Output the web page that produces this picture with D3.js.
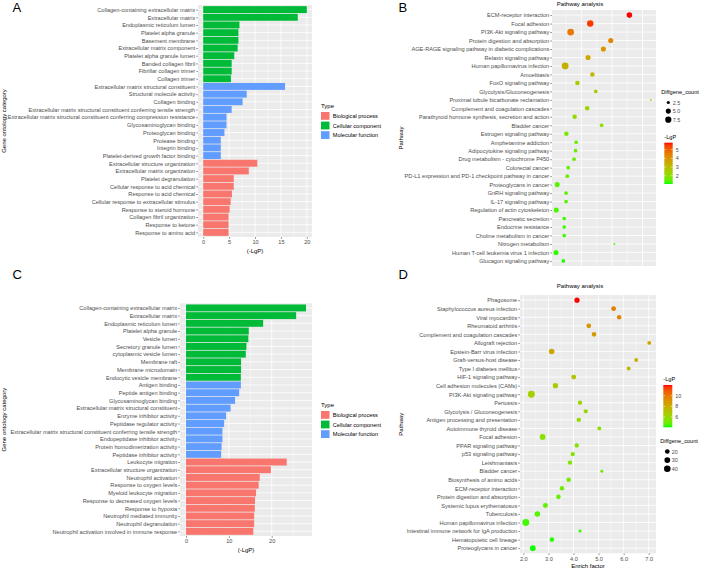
<!DOCTYPE html>
<html lang="en">
<head>
<meta charset="UTF-8">
<script src="https://d3js.org/d3.v7.min.js"></script>
<style>
  body { margin: 0; background: #fff; }
  text { font-family: "Liberation Sans", Arial, sans-serif; }
</style>
</head>
<body>
<div id="here"></div>
<script>
// ---- panel A : GO terms (first set) ----
const aTerms = [
  "Collagen-containing extracellular matrix", "Extracellular matrix", "Endoplasmic reticulum lumen",
  "Platelet alpha granule", "Basement membrane", "Extracellular matrix component",
  "Platelet alpha granule lumen", "Banded collagen fibril", "Fibrillar collagen trimer", "Collagen trimer",
  "Extracellular matrix structural constituent", "Structural molecule activity", "Collagen binding",
  "Extracellular matrix structural constituent conferring tensile strength",
  "Extracellular matrix structural constituent conferring compression resistance",
  "Glycosaminoglycan binding", "Proteoglycan binding", "Protease binding", "Integrin binding",
  "Platelet-derived growth factor binding",
  "Extracellular structure organization", "Extracellular matrix organization", "Platelet degranulation",
  "Cellular response to acid chemical", "Response to acid chemical",
  "Cellular response to extracellular stimulus", "Response to steroid hormone",
  "Collagen fibril organization", "Response to ketone", "Response to amino acid"
];
const aValues = [20.0, 18.25, 7.0, 6.8, 6.8, 6.65, 6.0, 5.5, 5.5, 5.35,
  15.8, 8.4, 7.6, 5.5, 4.5, 4.5, 4.1, 3.4, 3.4, 3.4,
  10.45, 8.8, 5.9, 5.9, 5.55, 5.3, 5.1, 4.9, 4.9, 4.9];
const aTypes = [].concat(Array(10).fill("CC"), Array(10).fill("MF"), Array(10).fill("BP"));
const aTicks = [0, 5, 10, 15, 20];

// ---- panel C : GO terms (second set) ----
const cTerms = [
  "Collagen-containing extracellular matrix", "Extracellular matrix", "Endoplasmic reticulum lumen",
  "Platelet alpha granule", "Vesicle lumen", "Secretory granule lumen", "cytoplasmic vesicle lumen",
  "Membrane raft", "Membrane microdomain", "Endocytic vesicle membrane",
  "Antigen binding", "Peptide antigen binding", "Glycosaminoglycan binding",
  "Extracellular matrix structural constituent", "Enzyme inhibitor activity", "Peptidase regulator activity",
  "Extracellular matrix structural constituent conferring tensile strength",
  "Endopeptidase inhibitor activity", "Protein homodimerization activity", "Peptidase inhibitor activity",
  "Leukocyte migration", "Extracellular structure organization", "Neutrophil activation",
  "Response to oxygen levels", "Myeloid leukocyte migration", "Response to decreased oxygen levels",
  "Response to hypoxia", "Neutrophil mediated immunity", "Neutrophil degranulation",
  "Neutrophil activation involved in immune response"
];
const cValues = [28.0, 25.7, 18.0, 14.65, 14.55, 14.1, 13.95, 12.85, 12.85, 12.8,
  12.8, 12.4, 11.45, 10.4, 9.35, 8.9, 8.5, 8.5, 8.3, 8.2,
  23.5, 19.8, 17.2, 16.95, 16.35, 16.1, 16.05, 15.9, 15.9, 15.7];
const cTypes = [].concat(Array(10).fill("CC"), Array(10).fill("MF"), Array(10).fill("BP"));
const cTicks = [0, 10, 20];

const typeKeys = ["BP", "CC", "MF"];
const typeNames = ["Biological process", "Cellular component", "Molecular function"];
const typeColors = ["#F8766D", "#00BA38", "#619CFF"];

// ---- panel B : pathways (first set) ----
const bPathways = [
  "ECM-receptor interaction", "Focal adhesion", "PI3K-Akt signaling pathway",
  "Protein digestion and absorption", "AGE-RAGE signaling pathway in diabetic complications",
  "Relaxin signaling pathway", "Human papillomavirus infection", "Amoebiasis", "FoxO signaling pathway",
  "Glycolysis/Gluconeogenesis", "Proximal tubule bicarbonate reclamation",
  "Complement and coagulation cascades", "Parathyroid hormone synthesis, secretion and action",
  "Bladder cancer", "Estrogen signaling pathway", "Amphetamine addiction", "Adipocytokine signaling pathway",
  "Drug metabolism - cytochrome P450", "Colorectal cancer",
  "PD-L1 expression and PD-1 checkpoint pathway in cancer", "Proteoglycans in cancer",
  "GnRH signaling pathway", "IL-17 signaling pathway", "Regulation of actin cytoskeleton",
  "Pancreatic secretion", "Endocrine resistance", "Choline metabolism in cancer", "Nitrogen metabolism",
  "Human T-cell leukemia virus 1 infection", "Glucagon signaling pathway"
];
const bEnrich = [4.57, 3.29, 2.65, 3.96, 3.72, 3.22, 2.47, 3.36, 2.87, 3.47, 5.27, 3.19, 2.78, 3.66, 2.51,
  2.83, 2.81, 2.76, 2.57, 2.54, 2.21, 2.50, 2.50, 2.18, 2.44, 2.44, 2.44, 4.08, 2.17, 2.41];
const bLgP = [5.8, 5.5, 4.6, 4.3, 4.0, 3.5, 3.3, 3.1, 2.6, 2.5, 2.4, 2.3, 2.1, 2.0, 1.7,
  1.6, 1.6, 1.6, 1.5, 1.5, 1.4, 1.4, 1.4, 1.3, 1.25, 1.25, 1.25, 1.2, 1.15, 1.1];
const bCount = [6, 8, 9, 5, 5, 5, 9, 4, 4, 3, 2, 4, 4, 3, 4,
  3, 3, 3, 3, 3, 5, 3, 3, 5, 3, 3, 3, 2, 5, 3];
const bGrid = [3, 4, 5];
const bSizeBreaks = [2.5, 5.0, 7.5];
const bColorBreaks = [2, 3, 4, 5];

// ---- panel D : pathways (second set) ----
const dPathways = [
  "Phagosome", "Staphylococcus aureus infection", "Viral myocarditis", "Rheumatoid arthritis",
  "Complement and coagulation cascades", "Allograft rejection", "Epstein-Barr virus infection",
  "Graft-versus-host disease", "Type I diabetes mellitus", "HIF-1 signaling pathway",
  "Cell adhesion molecules (CAMs)", "PI3K-Akt signaling pathway", "Pertussis",
  "Glycolysis / Gluconeogenesis", "Antigen processing and presentation", "Autoimmune thyroid disease",
  "Focal adhesion", "PPAR signaling pathway", "p53 signaling pathway", "Leishmaniasis", "Bladder cancer",
  "Biosynthesis of amino acids", "ECM-receptor interaction", "Protein digestion and absorption",
  "Systemic lupus erythematosus", "Tuberculosis", "Human papillomavirus infection",
  "Intestinal immune network for IgA production", "Hematopoietic cell lineage", "Proteoglycans in cancer"
];
const dEnrich = [4.14, 5.60, 5.82, 4.61, 4.82, 7.02, 3.13, 6.50, 6.20, 4.01, 3.28, 2.32, 4.26, 4.49, 4.21,
  5.03, 2.77, 4.13, 3.97, 3.86, 5.13, 3.81, 3.54, 3.40, 2.88, 2.56, 2.10, 4.26, 3.14, 2.38];
const dLgP = [12.0, 9.8, 9.5, 9.0, 8.8, 8.3, 8.3, 7.9, 7.5, 7.0, 6.6, 6.4, 6.1, 6.0, 5.9,
  5.7, 5.6, 5.5, 5.4, 5.3, 5.2, 5.1, 5.0, 4.9, 4.8, 4.6, 4.4, 4.3, 4.2, 4.1];
const dCount = [24, 20, 18, 20, 19, 14, 28, 14, 14, 22, 25, 45, 17, 17, 18,
  14, 30, 17, 17, 17, 10, 18, 18, 19, 22, 28, 44, 10, 19, 30];
const dTicks = [2, 3, 4, 5, 6, 7];
const dSizeBreaks = [20, 30, 40];
const dColorBreaks = [6, 8, 10];

const W = 701, H = 568;
const svg = d3.select("#here").append("svg").attr("width", W).attr("height", H);
const defs = svg.append("defs");

const FS = 5.6;
const panelBg = "#EBEBEB";
const axisTextCol = "#4D4D4D";

function styleAxis(g) {
  g.select(".domain").remove();
  g.selectAll(".tick line").attr("stroke", "#333").attr("stroke-width", 0.5);
  g.selectAll(".tick text").attr("fill", axisTextCol).style("font-size", FS + "px")
    .style("font-family", '"Liberation Sans", Arial, sans-serif');
}

function vGrid(g, x, majors, minors, y0, y1) {
  g.selectAll(null).data(minors).join("line")
    .attr("x1", d => x(d)).attr("x2", d => x(d)).attr("y1", y0).attr("y2", y1)
    .attr("stroke", "#fff").attr("stroke-width", 0.4);
  g.selectAll(null).data(majors).join("line")
    .attr("x1", d => x(d)).attr("x2", d => x(d)).attr("y1", y0).attr("y2", y1)
    .attr("stroke", "#fff").attr("stroke-width", 0.8);
}

function hGrid(g, y, cats, x0, x1) {
  g.selectAll(null).data(cats).join("line")
    .attr("x1", x0).attr("x2", x1).attr("y1", d => y(d)).attr("y2", d => y(d))
    .attr("stroke", "#fff").attr("stroke-width", 0.8);
}

function barPanel(o) {
  const g = svg.append("g");
  const x = d3.scaleLinear().domain(o.domain).range([o.x0, o.x1]);
  const y = d3.scalePoint().domain(o.terms).range([o.y0, o.y1]).padding(0.6);
  const step = y.step();
  g.append("rect").attr("x", o.x0).attr("y", o.y0).attr("width", o.x1 - o.x0).attr("height", o.y1 - o.y0)
    .attr("fill", panelBg);
  const half = (o.ticks[1] - o.ticks[0]) / 2;
  const minors = o.ticks.map(t => t + half).filter(v => v < o.domain[1]);
  vGrid(g, x, o.ticks, minors, o.y0, o.y1);
  hGrid(g, y, o.terms, o.x0, o.x1);
  const rows = o.terms.map((t, i) => ({ t, v: o.values[i], type: o.types[i] }));
  g.selectAll("rect.bar").data(rows).join("rect").attr("class", "bar")
    .attr("x", x(0)).attr("y", d => y(d.t) - step * 0.45)
    .attr("width", d => x(d.v) - x(0)).attr("height", step * 0.9)
    .attr("fill", d => typeColors[typeKeys.indexOf(d.type)]);

  g.append("g").attr("transform", `translate(${o.x0},0)`)
    .call(d3.axisLeft(y).tickSize(1.8).tickPadding(1)).call(styleAxis);
  g.append("g").attr("transform", `translate(0,${o.y1})`)
    .call(d3.axisBottom(x).tickValues(o.ticks).tickSize(1.8).tickPadding(1.5)).call(styleAxis);

  g.append("text").attr("x", (o.x0 + o.x1) / 2).attr("y", o.y1 + 15.5).attr("text-anchor", "middle")
    .style("font-size", "6px").text("(-LgP)");
  g.append("text").attr("transform", `translate(6,${(o.y0 + o.y1) / 2}) rotate(-90)`)
    .attr("text-anchor", "middle").style("font-size", "6px").text("Gene ontology category");

  // Type legend
  const lg = g.append("g").attr("transform", `translate(321,${o.legendY})`);
  lg.append("text").attr("x", 0).attr("y", 2).style("font-size", "6px").text("Type");
  typeNames.forEach((n, i) => {
    lg.append("rect").attr("x", 0).attr("y", 6 + i * 9.6).attr("width", 8.5).attr("height", 7.8)
      .attr("fill", typeColors[i]);
    lg.append("text").attr("x", 11.8).attr("y", 12 + i * 9.6).style("font-size", "5.6px").text(n);
  });
}

function colorScale(lo, hi) {
  return d3.scaleLinear().domain([lo, hi]).range(["#00ff00", "#ff0000"]).interpolate(d3.interpolateLab);
}

function dotPanel(o) {
  const g = svg.append("g");
  const x = d3.scaleLinear().domain(o.domain).range([o.x0, o.x1]);
  const y = d3.scalePoint().domain(o.paths).range([o.y0, o.y1]).padding(0.6);
  const col = colorScale(o.cRange[0], o.cRange[1]);
  const r = c => o.rRange[0] + (o.rRange[1] - o.rRange[0]) *
    Math.sqrt(Math.max(0, (c - o.sRange[0]) / (o.sRange[1] - o.sRange[0])));

  g.append("rect").attr("x", o.x0).attr("y", o.y0).attr("width", o.x1 - o.x0).attr("height", o.y1 - o.y0)
    .attr("fill", panelBg);
  const minors = o.grid.map(t => t - 0.5).concat([o.grid[o.grid.length - 1] + 0.5])
    .filter(v => v > o.domain[0] && v < o.domain[1]);
  vGrid(g, x, o.grid, minors, o.y0, o.y1);
  hGrid(g, y, o.paths, o.x0, o.x1);

  const rows = o.paths.map((p, i) => ({ p, e: o.enrich[i], l: o.lgp[i], c: o.count[i] }));
  g.selectAll("circle.pt").data(rows).join("circle").attr("class", "pt")
    .attr("cx", d => x(d.e)).attr("cy", d => y(d.p)).attr("r", d => r(d.c))
    .attr("fill", d => col(d.l));

  g.append("g").attr("transform", `translate(${o.x0},0)`)
    .call(d3.axisLeft(y).tickSize(1.8).tickPadding(1)).call(styleAxis);
  if (o.showX) {
    g.append("g").attr("transform", `translate(0,${o.y1})`)
      .call(d3.axisBottom(x).tickValues(o.grid).tickSize(1.8).tickPadding(1.5)).call(styleAxis);
    g.append("text").attr("x", (o.x0 + o.x1) / 2).attr("y", o.y1 + 14.5).attr("text-anchor", "middle")
      .style("font-size", "6px").text("Enrich factor");
  }
  g.append("text").attr("x", 580).attr("y", o.titleY).attr("text-anchor", "middle")
    .style("font-size", "6px").text("Pathway analysis");
  g.append("text").attr("transform", `translate(403,${(o.y0 + o.y1) / 2}) rotate(-90)`)
    .attr("text-anchor", "middle").style("font-size", "6px").text("Pathway");

  // size legend
  const sg = g.append("g").attr("transform", `translate(${o.sizeLeg[0]},${o.sizeLeg[1]})`);
  sg.append("text").attr("x", -7).attr("y", 0).style("font-size", "5.6px").text("Diffgene_count");
  o.sizeBreaks.forEach((b, i) => {
    sg.append("circle").attr("cx", 0).attr("cy", 9 + i * 8.6).attr("r", r(b)).attr("fill", "#000");
    sg.append("text").attr("x", 4.5).attr("y", 11 + i * 8.6).style("font-size", "5.4px")
      .attr("fill", axisTextCol).text(o.sizeFmt(b));
  });

  // colour bar
  const cb = o.cbar;
  const gid = "grad" + o.id;
  const grad = defs.append("linearGradient").attr("id", gid)
    .attr("x1", 0).attr("x2", 0).attr("y1", 1).attr("y2", 0);
  d3.range(0, 1.0001, 0.05).forEach(t => {
    grad.append("stop").attr("offset", t)
      .attr("stop-color", col(o.cRange[0] + t * (o.cRange[1] - o.cRange[0])));
  });
  const cy = d3.scaleLinear().domain(o.cRange).range([cb.y1, cb.y0]);
  g.append("text").attr("x", cb.x0).attr("y", cb.y0 - 4).style("font-size", "5.6px").text("-LgP");
  g.append("rect").attr("x", cb.x0).attr("y", cb.y0).attr("width", cb.x1 - cb.x0)
    .attr("height", cb.y1 - cb.y0).attr("fill", `url(#${gid})`);
  o.colorBreaks.forEach(b => {
    g.append("line").attr("x1", cb.x0).attr("x2", cb.x0 + 1.8).attr("y1", cy(b)).attr("y2", cy(b))
      .attr("stroke", "#fff").attr("stroke-width", 0.5);
    g.append("line").attr("x1", cb.x1 - 1.8).attr("x2", cb.x1).attr("y1", cy(b)).attr("y2", cy(b))
      .attr("stroke", "#fff").attr("stroke-width", 0.5);
    g.append("text").attr("x", cb.x1 + 3).attr("y", cy(b) + 1.9).style("font-size", "5.4px")
      .attr("fill", axisTextCol).text(b);
  });
}

barPanel({ terms: aTerms, values: aValues, types: aTypes, ticks: aTicks,
  x0: 198, x1: 312, y0: 5, y1: 237, domain: [-1, 21], legendY: 106 });
barPanel({ terms: cTerms, values: cValues, types: cTypes, ticks: cTicks,
  x0: 180, x1: 312, y0: 303.3, y1: 536, domain: [-1.4, 29.4], legendY: 405 });

dotPanel({ id: "B", paths: bPathways, enrich: bEnrich, lgp: bLgP, count: bCount, grid: bGrid,
  x0: 552, x1: 656, y0: 10, y1: 266, domain: [2.04, 5.44], showX: false, titleY: 6.3,
  cRange: [1.05, 5.8], sRange: [2, 9], rRange: [0.9, 3.4],
  sizeLeg: [668.3, 93.5], sizeBreaks: bSizeBreaks, sizeFmt: d3.format(".1f"),
  cbar: { x0: 664.3, x1: 672.7, y0: 142.7, y1: 184 }, colorBreaks: bColorBreaks });
dotPanel({ id: "D", paths: dPathways, enrich: dEnrich, lgp: dLgP, count: dCount, grid: dTicks,
  x0: 520, x1: 656, y0: 295, y1: 553.3, domain: [1.868, 7.29], showX: true, titleY: 288.3,
  cRange: [4.07, 12], sRange: [8, 46], rRange: [0.9, 3.5],
  sizeLeg: [667.3, 442.5], sizeBreaks: dSizeBreaks, sizeFmt: d3.format("d"),
  cbar: { x0: 663.3, x1: 672.3, y0: 385, y1: 427.3 }, colorBreaks: dColorBreaks });

// panel letters
const letters = [["A", 12.5, 12], ["B", 398.5, 11.5], ["C", 12.5, 279], ["D", 398.5, 278.5]];
svg.selectAll("text.letter").data(letters).join("text").attr("class", "letter")
  .attr("x", d => d[1]).attr("y", d => d[2]).style("font-size", "13px").text(d => d[0]);
</script>
</body>
</html>
